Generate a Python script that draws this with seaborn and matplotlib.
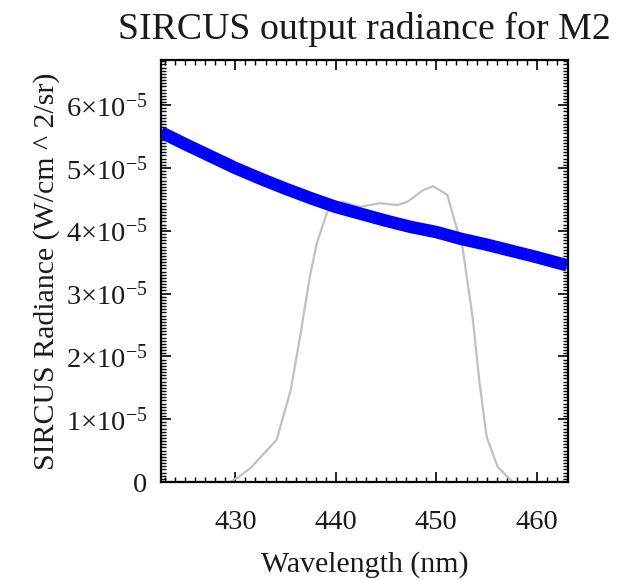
import numpy as np
import pandas as pd
import matplotlib
matplotlib.use("Agg")
import matplotlib.pyplot as plt
import seaborn as sns
from matplotlib.ticker import MultipleLocator, FixedLocator, FixedFormatter

# SIRCUS radiance (units of 1e-5 W/cm^2/sr)
rad_wl = [422.6, 425.0, 427.5, 430.0, 432.5, 435.0, 437.5, 440.0, 442.5,
          445.0, 447.5, 450.0, 452.5, 455.0, 457.5, 460.0, 463.0]
rad_val = [5.57, 5.38, 5.19, 5.00, 4.83, 4.67, 4.52, 4.38, 4.27,
           4.16, 4.06, 3.98, 3.87, 3.78, 3.68, 3.58, 3.45]

# Filter response (scaled, same units)
filt_wl = [422.6, 429.5, 430.5, 431.5, 434.1, 435.5, 436.5, 437.4, 438.1, 439.1,
           439.6, 440.7, 442.4, 444.4, 446.1, 447.1, 448.7, 449.7, 451.1, 451.6,
           452.6, 453.6, 454.3, 455.0, 456.1, 457.6, 463.0]
filt_val = [0.0, 0.0, 0.10, 0.22, 0.67, 1.46, 2.37, 3.26, 3.80, 4.28,
            4.44, 4.46, 4.38, 4.44, 4.41, 4.46, 4.65, 4.71, 4.57, 4.28,
            3.74, 2.63, 1.58, 0.72, 0.24, 0.0, 0.0]

yticks = [0, 1, 2, 3, 4, 5, 6]
ytick_labels = ["0"] + [r"$%d{\times}10^{-5}$" % v for v in yticks[1:]]
xticks = [430, 440, 450, 460]

sns.set_style("white")
plt.rcParams["font.family"] = ["Liberation Serif", "DejaVu Serif"]
plt.rcParams["mathtext.fontset"] = "custom"
plt.rcParams["mathtext.rm"] = "Liberation Serif"
plt.rcParams["mathtext.it"] = "Liberation Serif:italic"

rad = pd.DataFrame({"wl": rad_wl, "val": np.array(rad_val) * 1e-5})
filt = pd.DataFrame({"wl": filt_wl, "val": np.array(filt_val) * 1e-5})

fig = plt.figure(figsize=(6.17, 5.8), dpi=100)
ax = fig.add_axes([161 / 617, 98 / 580, 407 / 617, 422 / 580])

sns.lineplot(data=filt, x="wl", y="val", ax=ax, color="#c0c0c0", lw=1.6,
             estimator=None, sort=False)
sns.lineplot(data=rad, x="wl", y="val", ax=ax, color="#0000ff", lw=9,
             estimator=None, sort=False, solid_capstyle="butt")

ax.set_xlim(422.6, 463.1)
ax.set_ylim(0, 6.72e-5)
ax.xaxis.set_major_locator(FixedLocator(xticks))
ax.xaxis.set_minor_locator(MultipleLocator(1))
ax.yaxis.set_major_locator(FixedLocator([v * 1e-5 for v in yticks]))
ax.yaxis.set_major_formatter(FixedFormatter(ytick_labels))
ax.yaxis.set_minor_locator(MultipleLocator(0.05e-5))

ax.tick_params(which="both", direction="in", top=True, right=True,
               bottom=True, left=True, color="black")
ax.tick_params(which="major", length=7, width=1.2, labelsize=20.5,
               labelcolor="#1a1a1a")
ax.tick_params(axis="x", which="major", pad=20)
ax.tick_params(axis="y", which="major", pad=10)
ax.tick_params(which="minor", length=3.5, width=1.0)
for s in ax.spines.values():
    s.set_visible(True)
    s.set_color("black")
    s.set_linewidth(1.6)

ax.set_xlabel("Wavelength (nm)", fontsize=21.5, labelpad=12, color="#1a1a1a")
ax.set_ylabel("SIRCUS Radiance (W/cm ^ 2/sr)", fontsize=21.5, labelpad=4,
              color="#1a1a1a")
ax.set_title("SIRCUS output radiance for M2", fontsize=27.3, pad=15,
             color="#1a1a1a")

fig.savefig("out.png", dpi=100)
